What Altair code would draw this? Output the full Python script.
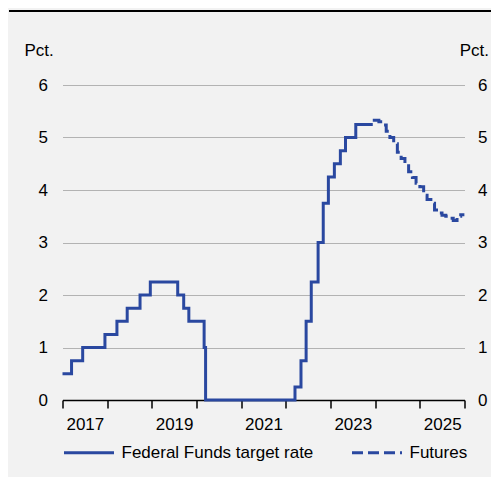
import altair as alt
import pandas as pd

# ---- data ----
rate_dates = ["2017-01-01", "2017-03-16", "2017-06-15", "2017-12-14", "2018-03-22",
              "2018-06-14", "2018-09-27", "2018-12-20", "2019-08-01", "2019-09-19",
              "2019-10-31", "2020-03-04", "2020-03-16", "2022-03-17", "2022-05-05",
              "2022-06-16", "2022-07-28", "2022-09-22", "2022-11-03", "2022-12-15",
              "2023-02-02", "2023-03-23", "2023-05-04", "2023-07-27", "2023-12-13"]
rate_values = [0.50, 0.75, 1.00, 1.25, 1.50,
               1.75, 2.00, 2.25, 2.00, 1.75,
               1.50, 1.00, 0.00, 0.25, 0.75,
               1.50, 2.25, 3.00, 3.75, 4.25,
               4.50, 4.75, 5.00, 5.25, 5.25]

fut_dates = ["2023-12-13", "2024-01-01", "2024-02-01", "2024-03-01", "2024-04-01",
             "2024-05-01", "2024-06-01", "2024-07-01", "2024-08-01", "2024-09-01",
             "2024-10-01", "2024-11-01", "2024-12-01", "2025-01-01", "2025-02-01",
             "2025-03-01", "2025-04-01", "2025-05-01", "2025-06-01", "2025-07-01",
             "2025-08-01", "2025-09-01", "2025-10-01", "2025-11-01", "2025-12-01",
             "2025-12-31"]
fut_values = [5.33, 5.33, 5.30, 5.24, 5.12,
              5.00, 4.88, 4.72, 4.60, 4.50,
              4.35, 4.24, 4.13, 4.06, 3.90,
              3.82, 3.75, 3.62, 3.56, 3.52,
              3.50, 3.46, 3.42, 3.50, 3.53,
              3.53]

series_names = ["Federal Funds target rate", "Futures"]
y_ticks = [0, 1, 2, 3, 4, 5, 6]
x_tick_years = list(range(2017, 2027))

BLUE = "#2a48a0"
FONT = "Liberation Sans"
FS = 17
PLOT_W = 402

rate_df = pd.DataFrame({"date": rate_dates, "value": rate_values, "series": series_names[0]})
fut_df = pd.DataFrame({"date": fut_dates, "value": fut_values, "series": series_names[1]})

x_scale = alt.Scale(type="utc", domain=[alt.DateTime(year=2017, month=1, date=1, utc=True),
                                        alt.DateTime(year=2026, month=1, date=1, utc=True)])
x_axis = alt.Axis(
    values=[alt.DateTime(year=y, month=1, date=1, utc=True) for y in x_tick_years],
    labelExpr="(utcyear(datum.value) % 2 == 1 && utcyear(datum.value) < 2026) ? '' + utcyear(datum.value) : ''",
    labelOffset=PLOT_W / 18, labelFlush=False, labelOverlap=False, labelPadding=8,
    tickSize=8, tickWidth=1.5, tickColor="black", domainColor="black", domainWidth=1.5,
    grid=False, title=None,
)
x_enc = alt.X("date:T", scale=x_scale, axis=x_axis)

y_scale = alt.Scale(domain=[0, 6], nice=False)
left_axis = alt.Axis(values=y_ticks, orient="left", domain=False, ticks=False, labelPadding=15,
                     grid=True, gridColor="#b3b3b3", gridWidth=1,
                     title="Pct.", titleAngle=0, titleX=-38.5, titleY=-35, titleAlign="left",
                     titleBaseline="middle")
right_axis = alt.Axis(values=y_ticks, orient="right", domain=False, ticks=False, labelPadding=13,
                      grid=False,
                      title="Pct.", titleAngle=0, titleX=24, titleY=-35, titleAlign="right",
                      titleBaseline="middle")

dash = alt.StrokeDash(
    "series:N",
    scale=alt.Scale(domain=series_names, range=[[1, 0], [11, 5]]),
    legend=alt.Legend(orient="none", legendX=0, legendY=341, direction="horizontal", columns=2,
                      title=None, labelFont=FONT, labelFontSize=FS, labelColor="black",
                      labelLimit=400, symbolType="stroke", symbolSize=2500,
                      symbolStrokeWidth=3, symbolStrokeColor=BLUE, columnPadding=32,
                      labelOffset=6),
)

rate_line = alt.Chart(rate_df).mark_line(color=BLUE, strokeWidth=3, interpolate="step-after").encode(
    x=x_enc, y=alt.Y("value:Q", scale=y_scale, axis=left_axis), strokeDash=dash)

fut_line = alt.Chart(fut_df).mark_line(color=BLUE, strokeWidth=3, interpolate="step-after").encode(
    x=x_enc,
    y=alt.Y("value:Q", scale=y_scale, axis=right_axis), strokeDash=dash)

top_rule = alt.Chart(pd.DataFrame({"a": [0]})).mark_rule(color="black", strokeWidth=2).encode(
    x=alt.value(-53.5), x2=alt.value(430), y=alt.value(-74))

chart = alt.layer(top_rule, rate_line, fut_line).resolve_axis(y="independent").properties(
    width=PLOT_W, height=315,
    autosize=alt.AutoSizeParams(type="none"),
    padding={"left": 54.5, "top": 77, "right": 483 - 54.5 - PLOT_W, "bottom": 77},
    background="#f2f2f2",
).configure_view(stroke=None).configure_axis(
    labelFont=FONT, labelFontSize=FS, labelColor="black",
    titleFont=FONT, titleFontSize=FS, titleColor="black", titleFontWeight="normal",
)

chart.save("out.html", embed_options={"renderer": "svg", "actions": False})
